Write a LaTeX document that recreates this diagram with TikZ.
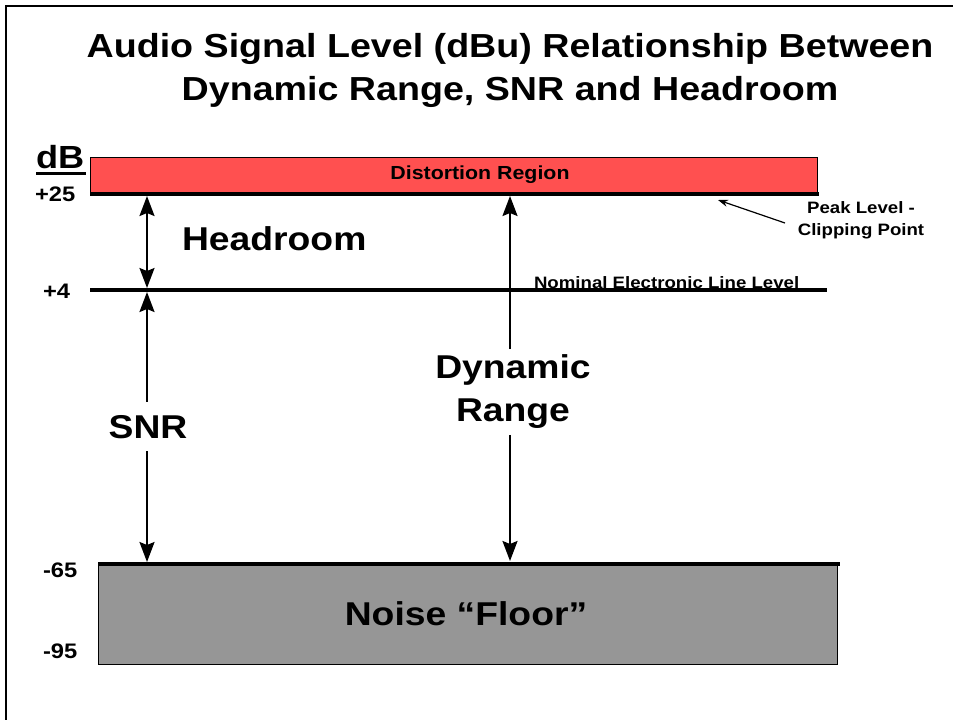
\documentclass[tikz,border=0pt]{standalone}
\usepackage{fontspec}
\setsansfont{Liberation Sans}[FakeStretch=1.13]
\renewcommand{\familydefault}{\sfdefault}
\usetikzlibrary{arrows.meta}

\definecolor{distred}{HTML}{FF5050}
\definecolor{floorgray}{HTML}{969696}

\begin{document}
\begin{tikzpicture}[x=1pt, y=-1pt,
  txt/.style={inner sep=0pt, outer sep=0pt, font=\sffamily\bfseries\fontsize{#1}{#1}\selectfont},
  txt/.default=33,
  dimline/.style={line width=2pt},
  levelline/.style={line width=4pt},
]
\useasboundingbox (0,0) rectangle (953,720);

% page frame (top and left edges)
\draw[line width=2.5pt] (6,720) -- (6,6) -- (953,6);

% title
\node[txt=33.3, anchor=base] (title1) at (510,57) {Audio Signal Level (dBu) Relationship Between};
\node[txt=33.3, anchor=base] (title2) at (510,100) {Dynamic Range, SNR and Headroom};

% scale labels
\node[txt=32, anchor=base west] (db) at (36,168) {dB};
\draw[line width=3pt] (db.base west) ++(0,5) -- ++(50,0);
\node[txt=21, anchor=base west] (l25) at (35,201) {+25};
\node[txt=21, anchor=base west] (l4) at (43,298) {+4};
\node[txt=21, anchor=base west] (l65) at (43,577) {-65};
\node[txt=21, anchor=base west] (l95) at (43,658) {-95};

% distortion region
\fill[distred] (90,157) rectangle (817,194);
\draw[line width=1pt] (90,194) -- (90,157) -- (817,157) -- (817,194);
\draw[line width=3.5pt] (90,194) -- (819,194);
\node[txt=18.9, anchor=base] (dist) at (480,179) {Distortion Region};

% nominal line level
\draw[levelline] (90,290) -- (827,290);
\node[txt=16.5, anchor=base west] (nom) at (534,288) {Nominal Electronic Line Level};

% noise floor
\fill[floorgray] (98,565) rectangle (837,664);
\draw[line width=1pt] (98,565) rectangle (837,664);
\draw[levelline] (98,564) -- (840,564);
\node[txt=33, anchor=base] (floor) at (466,625) {Noise “Floor”};

% arrow end points on the level lines
\coordinate (hrTop) at (147,196);
\coordinate (hrBot) at (147,288);
\coordinate (snrTop) at (147,292);
\coordinate (snrBot) at (147,562);
\coordinate (drTop) at (510,196);
\coordinate (drBot) at (510,561);

% headroom
\draw[dimline, {Stealth[length=20pt, width=15pt, inset=3pt]}-{Stealth[length=20pt, width=15pt, inset=3pt]}] (hrTop) -- (hrBot);
\node[txt=33, anchor=base west] (hr) at (182,250) {Headroom};

% SNR
\node[txt=33, anchor=base, outer ysep=13pt] (snr) at (148,438) {SNR};
\draw[dimline, -{Stealth[length=20pt, width=15pt, inset=3pt]}] (snrTop |- snr.north) -- (snrTop);
\draw[dimline, -{Stealth[length=20pt, width=15pt, inset=3pt]}] (snrBot |- snr.south) -- (snrBot);

% dynamic range
\node[txt=33, anchor=north, align=center, font=\sffamily\bfseries\fontsize{33}{43}\selectfont, outer ysep=6pt] (dr) at (513,349) {Dynamic\\Range};
\draw[dimline, -{Stealth[length=20pt, width=15pt, inset=3pt]}] (drTop |- dr.north) -- (drTop);
\draw[dimline, -{Stealth[length=20pt, width=15pt, inset=3pt]}] (drBot |- dr.south) -- (drBot);

% peak level callout
\node[txt=16.5, anchor=base, align=center, font=\sffamily\bfseries\fontsize{16.5}{22}\selectfont] (peak) at (861,235) {Peak Level -\\Clipping Point};
\coordinate (peakTail) at (785,223);
\coordinate (peakTip) at (718,200);
\draw[line width=1.2pt, -{Stealth[length=10pt, width=7pt]}] (peakTail) -- (peakTip);
\end{tikzpicture}
\end{document}
